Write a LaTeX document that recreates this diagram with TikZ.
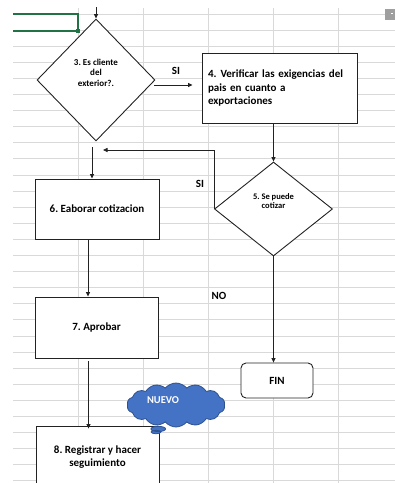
\documentclass[tikz,border=0pt]{standalone}
\usepackage{fontspec}
\setmainfont{Carlito}
\usetikzlibrary{shapes.geometric,shapes.symbols,shapes.callouts,arrows.meta}

\definecolor{gridgray}{HTML}{D9D9D9}
\definecolor{xlgreen}{HTML}{217346}
\definecolor{cloudblue}{HTML}{4472C4}
\definecolor{cloudedge}{HTML}{2F528F}
\definecolor{ink}{HTML}{222222}

\begin{document}
\frenchspacing
\begin{tikzpicture}[x=1pt,y=-1pt,
  every node/.style={font=\bfseries\fontsize{11}{13.5}\selectfont, text=black},
  gridline/.style={draw=gridgray, line width=0.9pt},
  stepbox/.style={draw=ink, line width=0.9pt, fill=white, rectangle, inner sep=0pt},
  decision/.style={draw=ink, line width=0.9pt, fill=white, diamond, inner sep=0pt},
  smalltext/.style={font=\bfseries\fontsize{9}{10.5}\selectfont, align=center},
  tinytext/.style={font=\bfseries\fontsize{8.5}{9.5}\selectfont, align=center},
  flow/.style={draw=ink, line width=0.8pt, -{Triangle[length=4.5pt,width=4pt]}}
]
\useasboundingbox (0,0) rectangle (395,483);
\clip (0,0) rectangle (395,483);

% sheet grid
\foreach \k in {0,...,29}
  \draw[gridline] (13,{14+16.1*\k}) -- (395,{14+16.1*\k});
\foreach \x in {78,143,208,273,338}
  \draw[gridline] (\x,8) -- (\x,483);

% selected cell and corner control
\draw[xlgreen, line width=1.6pt] (13,14) -- (78,14) -- (78,31) -- (13,31);
\fill[xlgreen] (75.5,28.5) rectangle (80,33);
\fill[gray!75] (385,9) rectangle (395,20);
\fill[white] (391,13) rectangle (393,14);

% decisions
\node[decision, minimum width=118pt, minimum height=122pt] (d3) at (96,80) {};
\node[smalltext] (t3) at (96,72.5) {3. Es cliente\\del\\exterior?.};
\node[decision, minimum width=118pt, minimum height=94pt] (d5) at (273.5,209) {};
\node[tinytext] (t5) at (273.5,201) {5. Se puede\\cotizar};

% process boxes
\node[stepbox, minimum width=155pt, minimum height=70pt, text width=143pt,
      inner xsep=6pt, align=left] (b4) at (279.5,88)
  {4.\hspace{4pt}Verificar las exigencias del\\pais en cuanto a\\exportaciones};
\node[stepbox, minimum width=124pt, minimum height=60pt] (b6) at (97,209) {6. Eaborar cotizacion};
\node[stepbox, minimum width=123pt, minimum height=61pt] (b7) at (96.5,327.5) {7. Aprobar};
\node[stepbox, minimum width=123pt, minimum height=62pt, align=center] (b8) at (97.5,457)
  {8. Registrar y hacer\\seguimiento};
\node[stepbox, rounded corners=5pt, minimum width=72pt, minimum height=35pt] (fin) at (277,380.5) {FIN};

% note cloud
\node[cloud callout, cloud puffs=14, cloud puff arc=100, aspect=2.2,
      minimum width=98pt, minimum height=44pt,
      inner sep=0pt, callout absolute pointer={(156,432)},
      fill=cloudblue, draw=cloudedge, line width=0.8pt] (cloud) at (176,405) {};
\node[text=white, font=\bfseries\fontsize{10.5}{12}\selectfont] (tnuevo) at (163,400) {NUEVO};

% branch labels
\node (si1) at (176,71) {SI};
\node (si2) at (200,184) {SI};
\node (no) at (219,296) {NO};

% connectors
\coordinate (entry) at (96,7);
\coordinate (back) at (103,150);
\draw[flow] (entry) -- (d3.north);
\draw[flow] ([shift={(-1,5)}]d3.east) -- ([shift={(-9,-3)}]b4.west);
\draw[flow] (b4.south -| d5.north) -- (d5.north);
\draw[flow] (d5.west) |- (back);
\draw[flow] ([shift={(-4,6)}]d3.south) -- ([xshift=-5pt]b6.north);
\draw[flow] ([xshift=-9pt]b6.south) -- ([xshift=-9pt]b6.south |- b7.north);
\draw[flow] ([shift={(-8,3)}]b7.south) -- ([shift={(-8,3)}]b7.south |- b8.north);
\draw[flow] (d5.south) -- (d5.south |- fin.north);
\end{tikzpicture}
\end{document}
